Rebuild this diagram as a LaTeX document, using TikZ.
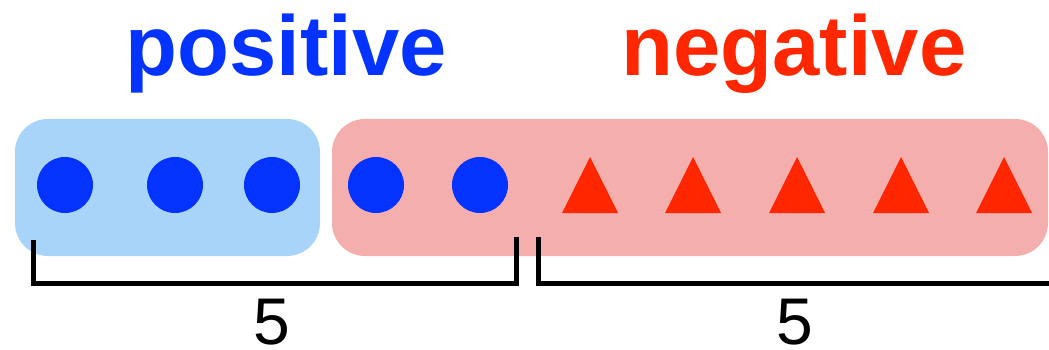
\documentclass[tikz,border=0pt]{standalone}
\usepackage{fontspec}
\setmainfont{Liberation Sans}
\definecolor{dotblue}{HTML}{0433FF}
\definecolor{trired}{HTML}{FF2600}
\definecolor{boxblue}{HTML}{A9D4FA}
\definecolor{boxred}{HTML}{F4AEAD}
\begin{document}
\begin{tikzpicture}[x=1pt,y=-1pt,
  dot/.style={circle,fill=dotblue,inner sep=0pt,minimum size=56pt},
  grp/.style={rounded corners=33pt},
  brace/.style={line width=5pt,line join=miter,line cap=butt,black},
  lbl/.style={font=\fontsize{85}{90}\selectfont\bfseries,inner sep=0pt,anchor=base},
  num/.style={font=\fontsize{66}{70}\selectfont,inner sep=0pt,anchor=base}]
\useasboundingbox (0,0) rectangle (1049,350);
% group boxes
\fill[boxblue,grp] (15,119) rectangle (320,256);
\fill[boxred,grp] (332,119) rectangle (1048,256);
% labels
\node[lbl,text=dotblue] (pos) at (286,76) {positive};
\node[lbl,text=trired] (neg) at (794,76) {negative};
% circles
\foreach \x/\n in {65/c1,175/c2,272/c3,376/c4,480/c5}
  \node[dot] (\n) at (\x,185) {};
% triangles
\foreach \x in {590,693,797,901,1004}
  \fill[trired] (\x-28,213) -- (\x,157) -- (\x+28,213) -- cycle;
% brackets
\coordinate (b1a) at (33,240);
\coordinate (b1b) at (516,237);
\coordinate (b2a) at (538,237);
\coordinate (b2b) at (1051,237);
\draw[brace] (b1a) |- (516,283) -- (b1b);
\draw[brace] (b2a) |- (1051,283) -- (b2b);
% counts
\node[num] (n1) at (272,344) {5};
\node[num] (n2) at (795,344) {5};
\end{tikzpicture}
\end{document}
